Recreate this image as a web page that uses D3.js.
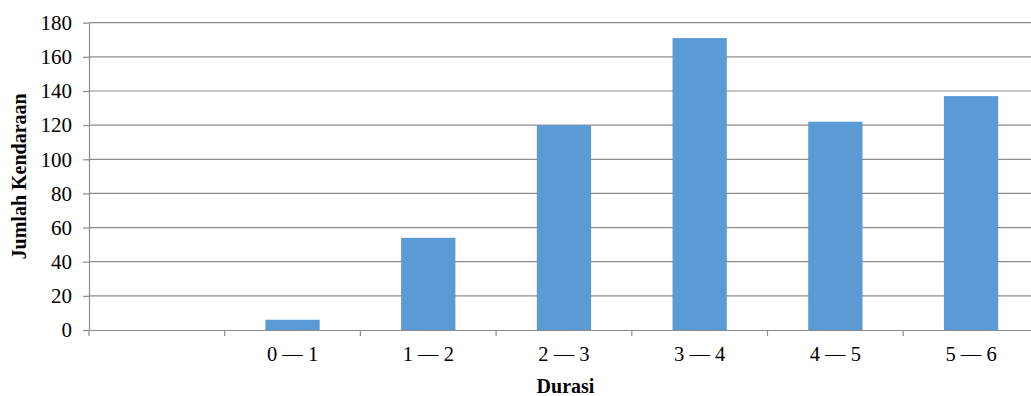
<!DOCTYPE html>
<html><head><meta charset="utf-8">
<script src="https://cdn.jsdelivr.net/npm/d3@7"></script>
<style>html,body{margin:0;padding:0;background:#fff;overflow:hidden}</style>
</head><body>
<svg id="c" width="1031" height="396"></svg>
<script>
const categories = ["", "0 — 1", "1 — 2", "2 — 3", "3 — 4", "4 — 5", "5 — 6"];
const values = [null, 6, 54, 120, 171, 122, 137];
const yTicks = [0, 20, 40, 60, 80, 100, 120, 140, 160, 180];

const svg = d3.select("#c");
const mLeft = 89, mTop = 22.7, mBottom = 330, step = 135.7;
const mRight = mLeft + step * categories.length;
const font = "'Liberation Serif','Times New Roman',serif";

const x = d3.scaleBand().domain(categories.map((c,i)=>i)).range([mLeft, mRight]).paddingInner(0.6).paddingOuter(0.3);
const xb = d3.scaleBand().domain(categories.map((c,i)=>i)).range([mLeft, mRight]);
const y = d3.scaleLinear().domain([0, 180]).range([mBottom, mTop]);

// gridlines
svg.append("g").selectAll("line").data(yTicks.filter(d=>d>0)).join("line")
  .attr("x1", mLeft).attr("x2", mRight).attr("y1", d=>y(d)).attr("y2", d=>y(d))
  .attr("stroke", "#8c8c8c").attr("stroke-width", 1.2);

// bars
svg.append("g").selectAll("rect").data(values.map((v,i)=>({v,i})).filter(d=>d.v!=null)).join("rect")
  .attr("x", d=>x(d.i)).attr("width", x.bandwidth())
  .attr("y", d=>y(d.v)).attr("height", d=>y(0)-y(d.v))
  .attr("fill", "#5b9bd5");

// y axis
const ya = svg.append("g").attr("transform", `translate(${mLeft},0)`)
  .call(d3.axisLeft(y).tickValues(yTicks).tickSize(6).tickPadding(11).tickSizeOuter(0));
ya.select(".domain").attr("stroke", "#8c8c8c").attr("stroke-width", 1.2);
ya.selectAll(".tick line").attr("stroke", "#8c8c8c").attr("stroke-width", 1.2);
ya.selectAll("text").attr("font-family", font).attr("font-size", 21).attr("fill", "#000");

// x axis
const xa = svg.append("g").attr("transform", `translate(0,${mBottom})`)
  .call(d3.axisBottom(x).tickFormat(i=>categories[i]).tickSize(0).tickPadding(16));
xa.select(".domain").attr("stroke", "#8c8c8c").attr("stroke-width", 1.2);
xa.selectAll("text").attr("font-family", font).attr("font-size", 20.5).attr("fill", "#000");
// boundary ticks
svg.append("g").selectAll("line").data(categories.map((c,i)=>i)).join("line")
  .attr("x1", d=>xb(d)).attr("x2", d=>xb(d)).attr("y1", mBottom).attr("y2", mBottom+6)
  .attr("stroke", "#8c8c8c").attr("stroke-width", 1.2);

// titles
svg.append("text").attr("x", 565.5).attr("y", 393).attr("text-anchor", "middle")
  .attr("font-family", font).attr("font-weight", "bold").attr("font-size", 20).text("Durasi");
svg.append("text").attr("transform", `translate(26,${(mTop+mBottom)/2}) rotate(-90)`).attr("text-anchor", "middle")
  .attr("font-family", font).attr("font-weight", "bold").attr("font-size", 20).text("Jumlah Kendaraan");
</script>
</body></html>
